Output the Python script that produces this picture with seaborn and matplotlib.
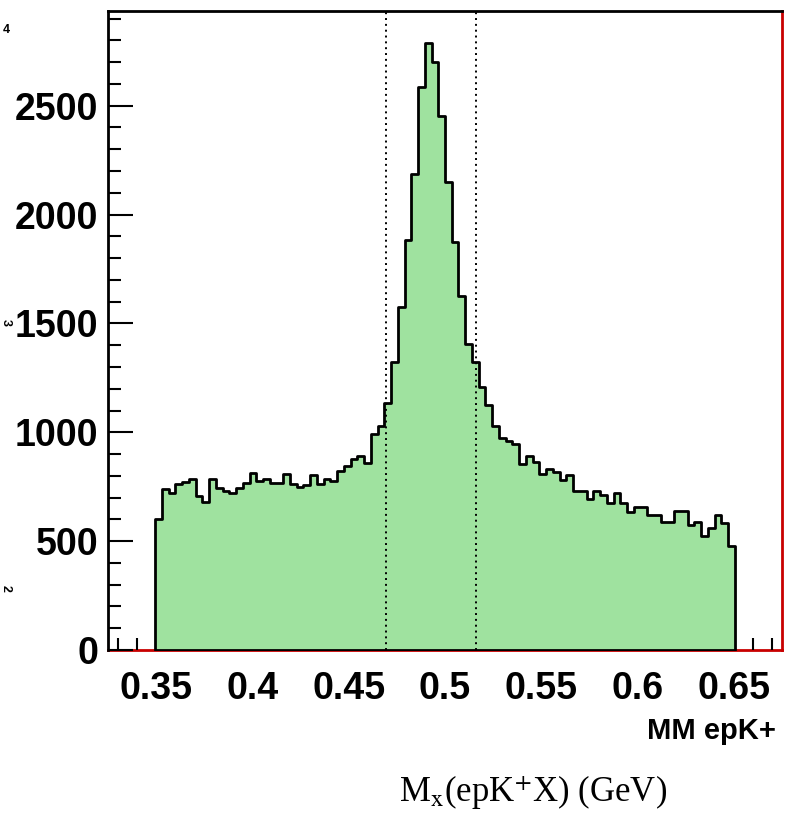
import numpy as np
import pandas as pd
import matplotlib
matplotlib.use("Agg")
import matplotlib.pyplot as plt
import seaborn as sns
from matplotlib import font_manager
from matplotlib.ticker import MultipleLocator

# ---------------- data ----------------
bin_lo = 0.3495
bin_width = 0.0035
counts = [600, 741, 723, 761, 773, 784, 708, 681, 784, 746,
          731, 723, 746, 766, 815, 777, 784, 766, 766, 807,
          761, 750, 758, 804, 761, 784, 777, 823, 846, 876,
          892, 861, 991, 1030, 1134, 1321, 1575, 1882, 2188, 2587,
          2790, 2703, 2453, 2150, 1874, 1628, 1406, 1321, 1206, 1125,
          1030, 976, 961, 945, 853, 890, 864, 807, 833, 816,
          779, 805, 731, 731, 692, 730, 710, 673, 723, 677,
          635, 657, 657, 618, 618, 588, 588, 639, 639, 572,
          589, 523, 562, 618, 585, 477]
x_tick_values = [0.35, 0.40, 0.45, 0.50, 0.55, 0.60, 0.65]
x_tick_labels = ["0.35", "0.4", "0.45", "0.5", "0.55", "0.6", "0.65"]
y_tick_values = [0, 500, 1000, 1500, 2000, 2500]
y_tick_labels = ["0", "500", "1000", "1500", "2000", "2500"]
cut_lines = [0.4695, 0.5160]
axis_title = "MM epK+"
x_title = r"M$_{\mathrm{x}}$(epK$^{+}$X) (GeV)"

edges = [bin_lo + bin_width * i for i in range(len(counts) + 1)]
centers = [0.5 * (edges[i] + edges[i + 1]) for i in range(len(counts))]
df = pd.DataFrame({"mm": centers, "n": counts})

# ---------------- style ----------------
sns.set_style("white")
names = {f.name for f in font_manager.fontManager.ttflist}


def pick(*cands):
    for c in cands:
        if c in names:
            return c
    return "DejaVu Sans"


sans = pick("Liberation Sans Narrow", "Arial Narrow", "Liberation Sans", "Arial")
serif = pick("Liberation Serif", "DejaVu Serif")
narrow = sans in ("Liberation Sans Narrow", "Arial Narrow")
plt.rcParams["font.family"] = [sans, "DejaVu Sans"]
plt.rcParams["mathtext.fontset"] = "stix"
plt.rcParams["text.color"] = "black"

tick_fs = 31 if narrow else 27
title_fs = 24 if narrow else 21

W, H = 789, 823
fig = plt.figure(figsize=(W / 100, H / 100), dpi=100)
fig.patch.set_facecolor("white")
left, right, top, bottom = 108, 782, 11, 650
ax = fig.add_axes([left / W, 1 - bottom / H, (right - left) / W, (bottom - top) / H])
ax.set_facecolor("white")

sns.histplot(data=df, x="mm", weights="n", bins=edges, element="step",
             fill=True, facecolor="#9fe29f", edgecolor="black",
             linewidth=2.0, alpha=1, ax=ax)

for xv in cut_lines:
    ax.axvline(xv, color="black", lw=1.4, ls=(0, (1, 2)), zorder=2)

ax.set_xlim(0.325, 0.675)
ax.set_ylim(0, 2935)
ax.set_xlabel("")
ax.set_ylabel("")

ax.set_xticks(x_tick_values, x_tick_labels)
ax.set_yticks(y_tick_values, y_tick_labels)
ax.xaxis.set_minor_locator(MultipleLocator(0.01))
ax.yaxis.set_minor_locator(MultipleLocator(100))
ax.tick_params(which="major", direction="in", length=18, width=1.5,
               color="black", labelsize=tick_fs, labelcolor="black")
ax.tick_params(which="minor", direction="in", length=9, width=1.5, color="black")
ax.tick_params(axis="x", which="both", bottom=True, top=False, pad=15)
ax.tick_params(axis="y", which="both", left=True, right=False, pad=7)
for lbl in ax.get_xticklabels() + ax.get_yticklabels():
    lbl.set_fontweight("bold")
    lbl.set_color("black")
    lbl.set_family([sans, "DejaVu Sans"])

for side in ["left", "top"]:
    ax.spines[side].set_color("black")
    ax.spines[side].set_linewidth(2)
for side in ["right", "bottom"]:
    ax.spines[side].set_color("#c80000")
    ax.spines[side].set_linewidth(2)
ax.spines["bottom"].set_zorder(0.5)

fig.text(776 / W, 1 - 731 / H, axis_title, ha="right", va="center",
         fontsize=title_fs, fontweight="bold", color="black",
         family=[sans, "DejaVu Sans"])
fig.text(533 / W, 1 - 793 / H, x_title, ha="center", va="center",
         fontsize=25, color="black", family=[serif, "DejaVu Serif"])

# clipped fragments at the far left edge
fig.text(6 / W, 1 - 30 / H, "4", ha="center", va="center", fontsize=9,
         fontweight="bold", color="black")
fig.text(6 / W, 1 - 322 / H, "3", ha="center", va="center", fontsize=9,
         fontweight="bold", rotation=-90, color="black")
fig.text(6 / W, 1 - 588 / H, "2", ha="center", va="center", fontsize=9,
         fontweight="bold", rotation=-90, color="black")

fig.savefig("out.png", dpi=100, facecolor="white")
